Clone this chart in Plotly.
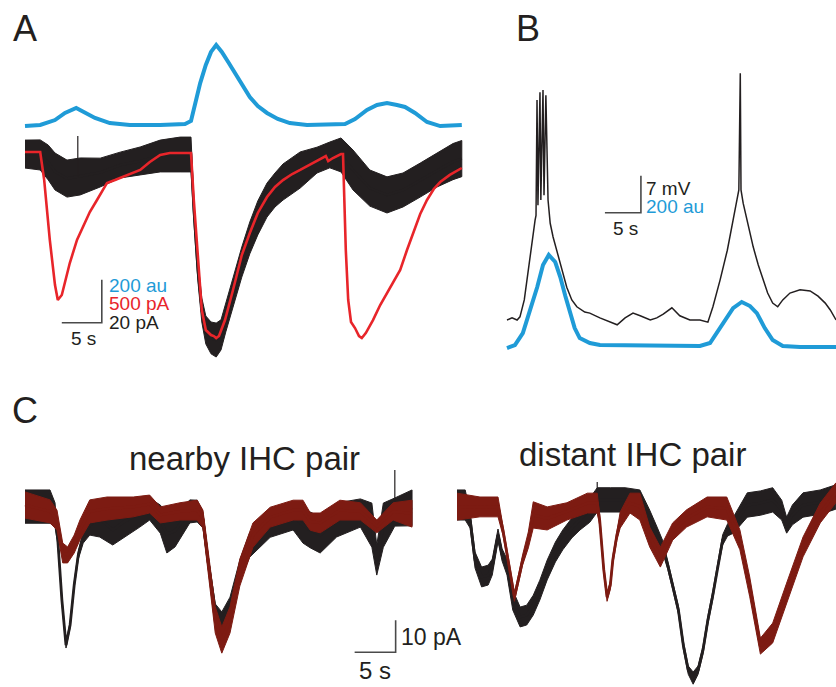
import plotly.graph_objects as go

W, H = 836, 687
FONT = "Liberation Sans, Arial, Helvetica, sans-serif"
BLUE = "#1f9bd7"
RED = "#e8252a"
DARKRED = "#7d1b12"
BLACK = "#231f20"
GRAY = "#4a4a4a"

# ---------------- Panel A ----------------
a_blue_t = [0, 1.9, 3.75, 5.0, 6.4, 7.5, 8.75, 10.6, 13.1, 16.9, 20.0, 20.75, 21.4, 21.9, 22.6, 23.25,
            23.9, 24.6, 25.4, 26.0, 26.9, 28.1, 29.1, 30.25, 31.6, 33.1, 35.25, 40.0, 41.25, 42.75, 44.0,
            45.25, 46.5, 47.5, 48.75, 50.25, 51.9, 54.6]
a_blue_au = [-5, 0, 23, 56, 79, 56, 33, 9, 0, 0, 5, 19, 116, 195, 279, 340, 372, 340, 293, 256, 200, 130,
             88, 56, 28, 9, 0, 5, 28, 70, 93, 102, 93, 84, 56, 14, -5, 0]

a_red_t = [0, 1.9, 2.4, 3.1, 3.75, 4.1, 4.6, 5.6, 6.5, 7.25, 8.1, 9.0, 10.25, 11.25, 12.5, 14.4, 15.6, 16.9,
           18.1, 20.75, 21.1, 21.6, 22.1, 22.6, 23.25, 23.6, 23.9, 24.25, 25.0, 26.0, 27.1, 28.1, 29.1, 30.25,
           31.25, 32.25, 33.4, 34.4, 35.6, 36.6, 37.6, 37.9, 38.5, 39.5, 39.75, 40.1, 40.4, 40.75, 41.25,
           41.75, 42.1, 42.6, 43.5, 44.4, 45.25, 46.0, 46.9, 47.75, 48.5, 49.4, 50.25, 51.1, 51.9, 53.1, 54.6]
a_red_pA = [0, 0, -326, -1023, -1547, -1721, -1663, -1291, -1023, -872, -698, -558, -360, -326, -279, -209,
            -116, -35, -12, -12, -558, -1256, -1838, -2070, -2128, -2140, -2163, -2140, -1954, -1605, -1198,
            -942, -709, -523, -407, -326, -256, -209, -151, -105, -47, -105, -70, -23, -23, -1140, -1721,
            -1977, -2047, -2140, -2163, -2105, -1954, -1779, -1640, -1524, -1372, -1140, -942, -721, -558,
            -430, -349, -267, -186]

a_blk_t = [0, 1.9, 2.9, 3.75, 5.25, 6.9, 9.4, 11.9, 14.4, 16.9, 19.4, 20.75, 21.1, 21.6, 22.1, 22.6, 23.25,
           23.9, 24.5, 25.1, 26.0, 27.1, 28.1, 29.1, 30.25, 31.25, 32.25, 34.4, 36.5, 38.1, 39.5, 41.0, 43.1,
           45.25, 47.25, 49.4, 51.5, 53.5, 54.6]
a_blk_pA = [-0.5, -0.9, -4.4, -8.6, -11.9, -10.9, -9.1, -5.6, -3.7, -1.4, -0.7, -0.7, -26.5, -54.4, -73.0,
            -82.3, -86.0, -87.0, -84.6, -76.7, -64.6, -50.7, -39.5, -30.2, -21.9, -17.2, -13.5, -7.9, -3.3,
            -0.9, -0.9, -7.9, -16.3, -19.5, -17.2, -12.6, -7.9, -4.0, -2.6]
a_blk_noise = [6.5, 7.0, 8.1, 8.6, 8.6, 8.6, 6.7, 6.0, 6.5, 7.4, 8.1, 8.1, 4.7, 4.7, 5.6, 6.5, 7.4, 7.9, 7.0,
               6.5, 6.5, 7.0, 7.4, 7.9, 7.9, 7.9, 8.4, 8.4, 6.0, 6.0, 7.9, 9.3, 8.4, 8.4, 7.9, 7.9, 7.9, 8.4, 8.4]
a_artifact_t = [6.6, 6.6]
a_artifact_pA = [-11.0, 7.9]

# ---------------- Panel B ----------------
b_blue_t = [0, 1.1, 2.2, 3.2, 4.2, 5.0, 5.8, 6.7, 7.4, 8.1, 8.75, 9.4, 10.1, 11.5, 12.9, 19.9, 26.8, 28.2,
            30.0, 31.4, 32.6, 33.75, 34.7, 35.8, 36.9, 38.3, 40.7, 45.7]
b_blue_au = [-11, 5, 70, 195, 319, 438, 492, 454, 373, 270, 178, 97, 43, 16, 5, 0, 0, 16, 124, 205, 238, 216,
             178, 97, 32, 0, -5, -5]

b_vm_t = [0, 0.7, 1.4, 1.8, 2.4, 2.8, 3.2, 3.6, 3.9, 4.03, 4.17, 4.3, 4.58, 4.7, 5.0, 5.14, 5.4, 5.7, 6.0,
          6.4, 6.9, 7.6, 8.3, 9.0, 9.7, 10.8, 11.5, 12.9, 14.3, 15.3, 16.4, 17.5, 18.5, 19.9, 20.8, 21.7, 22.9,
          24.0, 25.4, 26.8, 27.9, 28.6, 29.6, 30.6, 31.4, 31.9, 32.2, 32.4, 32.5, 32.8, 33.5, 34.2, 34.9,
          35.6, 36.2, 36.9, 37.6, 38.3, 39.3, 40.7, 42.1, 43.2, 44.2, 44.9, 45.7]
b_vm_mV = [0, 0.4, 0, 0.6, 3.8, 8.1, 12.3, 16.4, 18.9, 19.8, 41.6, 21.7, 43.1, 22.7, 43.5, 23.6, 42.5, 22.7,
           18.3, 15.7, 13.2, 9.8, 6.2, 3.8, 2.5, 1.5, 1.3, 0.4, -0.4, -0.9, 0.4, 1.3, 0.8, 0, 0.4, 1.1, 2.3,
           0.8, 0, 0, -0.4, 2.5, 7.6, 13.2, 18.9, 22.7, 24.6, 46.7, 24.6, 22.1, 18.0, 13.8, 10.4, 7.6, 5.1,
           3.2, 2.5, 3.8, 5.1, 5.7, 5.5, 4.5, 3.2, 1.9, 0]

# ---------------- Panel C (nearby pair) ----------------
cl_red_t = [0, 3.05, 3.9, 4.6, 5.2, 6.0, 6.7, 7.9, 10.0, 13.2, 15.2, 16.5, 18.9, 21.0, 21.7, 22.3, 23.2, 24.0,
            25.0, 26.2, 27.8, 29.9, 32.7, 33.9, 34.8, 36.0, 38.4, 40.9, 42.9, 44.9, 47.2]
cl_red_pA = [0, -2.0, -4.7, -15.0, -15.6, -12.2, -7.8, -2.0, -1.1, -0.6, 0.3, -3.1, -2.0, -1.6, -4.4, -17.2,
             -35.9, -42.2, -35.9, -21.1, -9.4, -3.8, -1.6, -1.6, -5.2, -5.6, -1.6, -2.0, -6.7, -2.0, -2.7]
cl_red_noise = [4.1, 3.6, 3.1, 3.1, 2.5, 2.8, 3.1, 3.6, 3.6, 3.1, 2.8, 2.5, 2.7, 3.1, 2.8, 3.1, 4.1, 4.1, 4.1,
                4.2, 3.8, 3.1, 3.1, 3.1, 2.7, 3.1, 3.1, 2.7, 2.0, 2.7, 4.2]

cl_blk_t = [0, 3.05, 3.66, 4.0, 4.5, 5.0, 5.5, 6.0, 6.5, 7.1, 7.9, 9.1, 10.7, 12.2, 14.0, 15.2, 16.5, 17.3,
            18.3, 20.1, 21.0, 21.7, 22.3, 23.2, 24.0, 25.0, 26.2, 27.4, 29.9, 32.7, 33.9, 34.8, 36.0, 38.0,
            40.9, 42.3, 42.9, 43.7, 45.1, 47.2]
cl_blk_pA = [-0.5, -0.5, -3.1, -10.9, -29.7, -43.8, -37.5, -25.0, -15.6, -10.0, -6.3, -4.2, -7.8, -5.0, -2.7,
             -1.3, -4.4, -9.1, -8.1, -2.0, -1.9, -4.7, -17.2, -32.8, -35.9, -31.3, -20.3, -12.5, -6.3, -3.4,
             -6.3, -7.8, -9.4, -4.7, -2.5, -6.3, -17.2, -6.3, -2.2, -0.9]
cl_blk_noise = [5.2, 5.2, 3.8, 1.3, 0.9, 0.9, 0.9, 0.9, 1.3, 1.9, 3.1, 5.8, 4.7, 5.0, 4.2, 3.4, 4.4, 5.9, 5.0,
                3.6, 3.4, 2.5, 1.9, 1.9, 2.5, 2.5, 3.1, 3.8, 3.8, 4.4, 5.6, 5.6, 5.6, 5.3, 4.4, 6.9, 4.7, 6.9,
                4.4, 5.6]
cl_artifact_t = [45.1, 45.1]
cl_artifact_pA = [-2.2, 10.9]

# ---------------- Panel C (distant pair) ----------------
cr_red_t = [0, 2.8, 5.0, 5.6, 6.1, 7.0, 7.6, 8.0, 8.7, 9.3, 11.0, 13.4, 15.9, 17.1, 17.4, 17.9, 18.3, 18.7,
            19.0, 19.5, 19.9, 21.1, 22.3, 23.5, 24.8, 26.3, 28.0, 30.5, 32.9, 34.5, 35.7, 37.0, 38.5, 40.2,
            42.2, 44.3, 46.2]
cr_red_pA = [-0.5, -0.6, -0.6, -7.8, -15.0, -28.8, -21.9, -17.2, -10.9, -3.1, -4.2, -2.0, 0.6, 0.6, -4.7,
             -20.3, -28.8, -25.0, -17.2, -9.4, -4.7, 0.6, -0.5, -10.0, -16.3, -8.3, -4.2, -0.6, -1.1, -10.9,
             -25.6, -44.1, -40.0, -27.5, -13.1, -2.5, 3.8]
cr_red_noise = [4.2, 3.1, 3.1, 1.6, 1.3, 1.3, 1.3, 1.6, 2.5, 4.1, 3.6, 2.7, 3.1, 3.1, 1.6, 1.3, 1.3, 1.3, 1.3,
                1.6, 2.5, 3.1, 4.2, 3.1, 3.1, 2.7, 2.7, 3.1, 3.6, 3.1, 3.1, 2.5, 3.1, 3.1, 3.1, 3.1, 3.1]

cr_blk_t = [0, 1.0, 1.6, 2.2, 3.0, 3.8, 4.3, 4.8, 5.0, 5.5, 6.1, 6.8, 7.7, 8.5, 9.3, 10.1, 11.0, 12.0, 12.9,
            14.0, 15.0, 16.2, 17.1, 18.7, 20.5, 22.3, 23.5, 24.4, 25.1, 25.7, 26.3, 27.0, 27.6, 28.2, 28.8,
            29.4, 30.0, 30.6, 31.2, 31.8, 32.4, 33.0, 33.7, 35.4, 37.0, 38.5, 39.6, 40.2, 40.9, 42.2, 44.3, 46.2]
cr_blk_pA = [0, 0, -4.7, -17.2, -22.5, -21.9, -19.4, -12.5, -9.4, -15.6, -19.4, -29.7, -35.0, -34.4, -31.3,
             -26.6, -20.3, -14.7, -10.9, -7.2, -4.7, -1.6, 1.6, 1.6, 1.6, 0.9, -4.7, -9.4, -13.1, -18.8, -25.0,
             -32.8, -43.8, -51.6, -54.1, -51.6, -45.3, -35.9, -28.1, -18.8, -10.9, -7.8, -6.3, 0, 0.6, 1.6,
             -1.6, -6.3, -3.1, 0, 0.9, 2.5]
cr_blk_noise = [4.7, 4.7, 2.5, 2.5, 3.1, 3.1, 2.5, 1.9, 1.9, 1.9, 2.5, 3.1, 3.1, 3.1, 3.1, 3.1, 3.1, 3.1, 3.1,
                3.1, 3.1, 3.8, 3.8, 3.8, 3.8, 3.8, 3.1, 2.5, 1.9, 1.3, 1.3, 1.3, 1.3, 1.3, 1.9, 1.3, 1.3, 1.3,
                1.3, 1.3, 1.6, 1.9, 2.5, 3.8, 3.8, 3.8, 3.1, 2.5, 3.1, 3.8, 3.8, 3.8]
cr_artifact_t = [17.1, 17.1]
cr_artifact_pA = [1.6, 7.2]

# scale bars (sizes)
scale_s = 5
a_scale_au = 200
b_scale_au = 200
c_scale_pA = 10

# ---------------- figure ----------------
fig = go.Figure()


def line(t, v, color, width, xa, ya):
    fig.add_trace(go.Scatter(x=t, y=v, mode="lines", line=dict(color=color, width=width),
                             xaxis=xa, yaxis=ya, hoverinfo="skip"))


def band(t, m, hw, color, xa, ya, width):
    up = [a + b for a, b in zip(m, hw)]
    lo = [a - b for a, b in zip(m, hw)]
    fig.add_trace(go.Scatter(x=list(t) + list(t)[::-1], y=up + lo[::-1], mode="lines", fill="toself",
                             fillcolor=color, line=dict(color=color, width=1),
                             xaxis=xa, yaxis=ya, hoverinfo="skip"))
    line(t, m, color, width, xa, ya)


def scalebar(xa, ya, t_corner, v_corner, dt, dv):
    line([t_corner - dt, t_corner, t_corner], [v_corner, v_corner, v_corner + dv], GRAY, 1.6, xa, ya)


# Panel A: x with y (black, bottom layer), y2 (red), y3 (blue, top layer)
band(a_blk_t, a_blk_pA, a_blk_noise, BLACK, "x", "y", 2.5)
line(a_artifact_t, a_artifact_pA, BLACK, 1.2, "x", "y")
line(a_red_t, a_red_pA, RED, 2.6, "x", "y2")
line(a_blue_t, a_blue_au, BLUE, 4, "x", "y3")
scalebar("x", "y3", 9.6, -920, scale_s, a_scale_au)

# Panel B: x2 with y4 (Vm), y5 (blue)
line(b_vm_t, b_vm_mV, BLACK, 1.5, "x2", "y4")
line(b_blue_t, b_blue_au, BLUE, 4, "x2", "y5")
scalebar("x2", "y5", 18.6, 720, scale_s, b_scale_au)

# Panel C: x3 (nearby), x4 (distant), y6
band(cl_blk_t, cl_blk_pA, cl_blk_noise, BLACK, "x3", "y6", 2.8)
line(cl_artifact_t, cl_artifact_pA, BLACK, 1.2, "x3", "y6")
band(cl_red_t, cl_red_pA, cl_red_noise, DARKRED, "x3", "y6", 2.8)
band(cr_blk_t, cr_blk_pA, cr_blk_noise, BLACK, "x4", "y6", 2.8)
line(cr_artifact_t, cr_artifact_pA, BLACK, 1.2, "x4", "y6")
band(cr_red_t, cr_red_pA, cr_red_noise, DARKRED, "x4", "y6", 2.8)
scalebar("x3", "y6", 45.2, -46, scale_s, c_scale_pA)


# ---------------- axes (invisible, calibrated to the scale bars) ----------------
def xr(x0px, px_per_s):
    return [-x0px / px_per_s, (W - x0px) / px_per_s]


def yr(base_px, px_per_unit):
    return [(base_px - H) / px_per_unit, base_px / px_per_unit]


ax = dict(domain=[0, 1], visible=False, fixedrange=True)
fig.update_layout(
    xaxis=dict(ax, range=xr(25, 8.0)),
    xaxis2=dict(ax, range=xr(507, 7.2), overlaying="x"),
    xaxis3=dict(ax, range=xr(25, 8.2), overlaying="x"),
    xaxis4=dict(ax, range=xr(457, 8.2), overlaying="x"),
    yaxis=dict(ax, range=yr(153, 43 / 20)),
    yaxis2=dict(ax, range=yr(152, 43 / 500), overlaying="y"),
    yaxis3=dict(ax, range=yr(125, 43 / 200), overlaying="y"),
    yaxis4=dict(ax, range=yr(320, 37 / 7), overlaying="y"),
    yaxis5=dict(ax, range=yr(346, 37 / 200), overlaying="y"),
    yaxis6=dict(ax, range=yr(505, 32 / 10), overlaying="y"),
    width=W, height=H, margin=dict(l=0, r=0, t=0, b=0),
    paper_bgcolor="white", plot_bgcolor="white", showlegend=False,
)


def ann(text, xpx, ypx, size, color=BLACK, xanchor="left"):
    fig.add_annotation(x=xpx / W, y=1 - ypx / H, xref="paper", yref="paper", text=text, showarrow=False,
                       font=dict(family=FONT, size=size, color=color), xanchor=xanchor, yanchor="middle")


ann("A", 25, 28, 36, xanchor="center")
ann("B", 528, 29, 36, xanchor="center")
ann("C", 25, 410, 36, xanchor="center")

ann("200 au", 107, 285, 19, BLUE)
ann("500 pA", 107, 303, 19, RED)
ann("20 pA", 107, 322, 19, BLACK)
ann("5 s", 83, 339, 19, BLACK, "center")

ann("7 mV", 644, 188, 19, BLACK)
ann("200 au", 644, 207, 19, BLUE)
ann("5 s", 625, 228, 19, BLACK, "center")

ann("10 pA", 399, 637, 23, BLACK)
ann("5 s", 375, 670, 24, BLACK, "center")

ann("nearby IHC pair", 244, 458, 33, BLACK, "center")
ann("distant IHC pair", 632, 455, 33, BLACK, "center")

fig.write_html("out.html", config={"displayModeBar": False, "staticPlot": True},
               post_script="document.body.style.margin='0';")
